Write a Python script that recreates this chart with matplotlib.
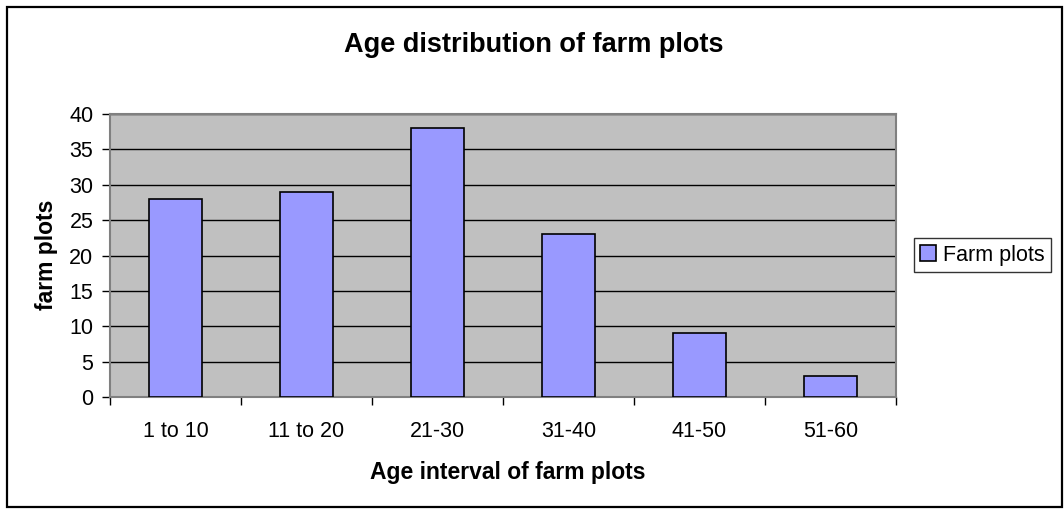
import matplotlib.pyplot as plt
from matplotlib.patches import Rectangle

plt.rcParams['font.family'] = ['Liberation Sans', 'DejaVu Sans']

categories = ['1 to 10', '11 to 20', '21-30', '31-40', '41-50', '51-60']
plots = [28, 29, 38, 23, 9, 3]

W, H = 1064, 509
fig = plt.figure(figsize=(W / 100, H / 100), dpi=100)

# outer chart frame
fig.patches.append(Rectangle((7 / W, 2 / H), 1055 / W, 500 / H, transform=fig.transFigure,
                             fill=False, edgecolor='black', linewidth=1.6))

ax = fig.add_axes([110 / W, 1 - 397 / H, 786 / W, 283 / H])
ax.set_facecolor('#C0C0C0')

x = range(len(categories))
ax.bar(x, plots, width=0.4, color='#9999FF', edgecolor='black', linewidth=1.2,
       label='Farm plots', zorder=3)

ax.set_xlim(-0.5, len(categories) - 0.5)
ax.set_ylim(0, 40)
ax.set_yticks(range(0, 41, 5))
ax.yaxis.grid(True, color='black', linewidth=1.0, zorder=1)
ax.set_axisbelow(True)

# category labels centred, tick marks on the boundaries
ax.set_xticks(list(x))
ax.set_xticklabels(categories)
ax.tick_params(axis='x', length=0, labelsize=15.5, pad=17)
ax.set_xticks([i - 0.5 for i in range(len(categories) + 1)], minor=True)
ax.tick_params(axis='x', which='minor', length=6, width=1, direction='out')
ax.tick_params(axis='y', length=6, width=1, direction='out', labelsize=15.5, pad=6)

for side in ax.spines:
    ax.spines[side].set_color('#808080')
    ax.spines[side].set_linewidth(1.5)

ax.set_xlabel('Age interval of farm plots', fontsize=16.5, fontweight='bold')
ax.set_ylabel('farm plots', fontsize=16.5, fontweight='bold')
ax.xaxis.set_label_coords(508 / W, 1 - 461 / H, transform=fig.transFigure)
ax.yaxis.set_label_coords(58 / W, 1 - 255 / H, transform=fig.transFigure)

fig.text(534 / W, 1 - 45 / H, 'Age distribution of farm plots', ha='center', va='center',
         fontsize=19.5, fontweight='bold')

leg = ax.legend(loc='center left', bbox_to_anchor=(914 / W, 1 - 255 / H),
                bbox_transform=fig.transFigure, fontsize=15.5, frameon=True, fancybox=False,
                handlelength=0.7, handleheight=0.7, handletextpad=0.35, borderpad=0.3,
                borderaxespad=0)
leg.get_frame().set_edgecolor('black')
leg.get_frame().set_linewidth(1.0)

fig.savefig('out.png', dpi=100)
